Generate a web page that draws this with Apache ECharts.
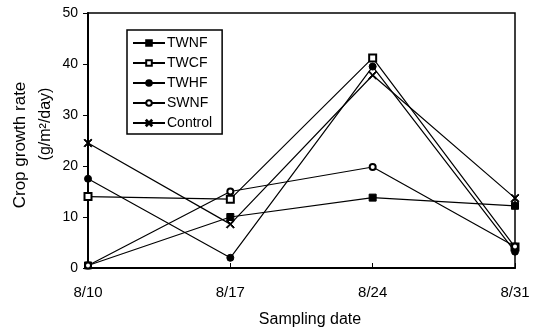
<!DOCTYPE html>
<html><head><meta charset="utf-8">
<script src="https://cdn.jsdelivr.net/npm/echarts@6/dist/echarts.min.js"></script>
<style>html,body{margin:0;padding:0;background:#fff}#c{width:541px;height:329px}</style>
</head><body><div id="c"></div>
<script>
const categories = ['8/10', '8/17', '8/24', '8/31'];
const TWNF = [0.5, 10, 13.8, 12.2];
const TWCF = [14, 13.5, 41.2, 4.1];
const TWHF = [17.5, 2, 39.5, 3.2];
const SWNF = [0.5, 15, 19.8, 4.2];
const Control = [24.5, 8.6, 37.8, 13.7];
const yTicks = [0, 10, 20, 30, 40, 50];

const X = 'path://M0,1L1,0L5,4L9,0L10,1L6,5L10,9L9,10L5,6L1,10L0,9L4,5Z';
const font = 'Liberation Sans, Arial, sans-serif';
function s(name, data, symbol, size) {
  return {name, type: 'line', data, symbol, symbolSize: size, showAllSymbol: true,
    lineStyle: {color: '#000', width: 1.2}, itemStyle: {color: '#000', borderColor: '#000', borderWidth: 1},
    emphasis: {disabled: true}, z: 3};
}
const chart = echarts.init(document.getElementById('c'));
chart.setOption({
  animation: false,
  backgroundColor: '#fff',
  grid: {left: 88, right: 26, top: 13, bottom: 61, show: true, borderColor: '#000', borderWidth: 1.5},
  legend: {
    orient: 'vertical', left: 127, top: 30, itemWidth: 32, itemHeight: 7, itemGap: 6,
    padding: [6, 10, 4, 5], borderColor: '#000', borderWidth: 1.5, backgroundColor: '#fff',
    textStyle: {fontFamily: font, fontSize: 14, lineHeight: 14, color: '#000', padding: [0, 0, 0, -3]},
    data: ['TWNF', 'TWCF', 'TWHF', 'SWNF', 'Control']
  },
  xAxis: {type: 'category', data: categories, boundaryGap: false,
    axisLine: {lineStyle: {color: '#000', width: 2}},
    axisTick: {inside: true, length: 5, lineStyle: {color: '#000'}},
    axisLabel: {fontFamily: font, fontSize: 15, color: '#000', margin: 17},
    splitLine: {show: false}},
  yAxis: {type: 'value', min: yTicks[0], max: yTicks[yTicks.length - 1], interval: 10,
    axisLine: {show: true, lineStyle: {color: '#000', width: 2}},
    axisTick: {show: true, length: 5, lineStyle: {color: '#000'}},
    axisLabel: {fontFamily: font, fontSize: 14, color: '#000', margin: 10},
    splitLine: {show: false}},
  graphic: [
    {type: 'text', x: 20, y: 145, rotation: Math.PI / 2, style: {text: 'Crop growth rate', font: '17px ' + font, fill: '#000', align: 'center', verticalAlign: 'middle'}},
    {type: 'text', x: 46, y: 124, rotation: Math.PI / 2, style: {text: '(g/m²/day)', font: '16px ' + font, fill: '#000', align: 'center', verticalAlign: 'middle'}},
    {type: 'text', x: 310, y: 320, style: {text: 'Sampling date', font: '16px ' + font, fill: '#000', align: 'center', verticalAlign: 'middle'}}
  ],
  series: [
    s('TWNF', TWNF, 'rect', 7),
    s('TWCF', TWCF, 'emptyRect', 7),
    s('TWHF', TWHF, 'circle', 7),
    s('SWNF', SWNF, 'emptyCircle', 6),
    s('Control', Control, X, 8)
  ]
});
</script></body></html>
